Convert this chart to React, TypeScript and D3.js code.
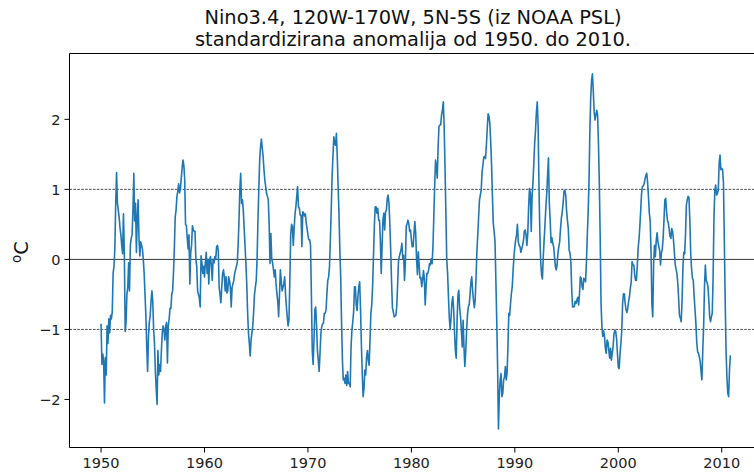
import React from "react";
import * as d3 from "d3";

// monthly standardized Nino3.4 anomaly (Jan 1950 .. Nov 2010)
const nino1950s = [
  -0.92, -1.5, -1.35, -1.45, -2.05, -1.4, -1.65, -0.95, -1.2, -0.85, -1.05, -0.8,
  -0.85, -0.75, -0.2, -0.1, 0.15, 0.8, 1.24, 0.8, 0.7, 0.6, 0.45, 0.35,
  0.2, 0.08, 0.65, 0.1, -1.03, -0.9, -0.5, -0.4, -0.05, -0.45, 0.2, 0.3,
  0.35, 0.7, 1.23, 0.55, 0.8, 0.1, 0.6, 0.85, 0.3, 0.05, 0.25, 0.2,
  0.15, 0.0, -0.2, -0.5, -0.8, -1.25, -1.6, -1.1, -0.9, -0.8, -0.6, -0.45,
  -0.6, -1.0, -1.2, -1.6, -1.85, -2.07, -1.3, -1.65, -1.5, -1.6, -1.3, -1.05,
  -0.95, -1.0, -1.15, -0.95, -0.9, -1.48, -0.95, -0.85, -0.7, -0.7, -0.5, -0.45,
  -0.2, 0.15, 0.6, 0.7, 0.9, 0.97, 1.08, 0.95, 1.0, 1.15, 1.3, 1.42,
  1.35, 1.15, 0.5, 0.48, 0.3, 0.15, 0.35, -0.35, 0.1, 0.2, 0.48, 0.42,
  0.4, 0.4, 0.0, -0.1, -0.45, -0.5, -0.55, -0.68, 0.05, -0.05, -0.2, -0.1,
];
const nino1960s = [
  -0.25, -0.05, 0.1, -0.2, 0.0, -0.35, 0.0, 0.04, -0.1, -0.3, 0.0, -0.05,
  0.04, 0.0, 0.18, 0.2, 0.12, -0.4, -0.5, -0.62, -0.4, -0.2, -0.15, -0.25,
  -0.45, -0.25, -0.48, -0.45, -0.25, -0.3, -0.4, -0.68, -0.4, -0.35, -0.3, -0.2,
  -0.15, -0.1, -0.05, 0.2, 0.55, 1.0, 1.23, 0.8, 0.85, 0.7, 0.45, 0.2,
  -0.05, -0.35, -0.75, -1.05, -1.2, -1.38, -1.15, -1.05, -0.95, -0.75, -0.5, -0.4,
  -0.3, 0.0, 0.56, 0.99, 1.42, 1.61, 1.72, 1.59, 1.47, 1.28, 1.13, 1.04,
  0.94, 0.9, 0.85, 0.5, -0.06, 0.37, 0.0, -0.05, -0.15, -0.25, -0.15, -0.35,
  -0.49, -0.6, -0.82, -0.5, -0.15, -0.3, -0.45, -0.4, -0.35, -0.25, -0.5, -0.68,
  -0.82, -0.95, -0.86, -0.3, 0.35, 0.5, 0.47, 0.2, 0.45, 0.65, 0.75, 0.9,
  1.04, 0.75, 0.73, 0.63, 0.63, 0.18, 0.68, 0.66, 0.62, 0.65, 0.52, 0.44,
];
const nino1970s = [
  0.35, 0.28, 0.28, 0.2, -0.5, -1.3, -1.5, -1.15, -0.72, -0.68, -0.95, -1.3,
  -1.44, -1.6, -1.34, -1.06, -0.96, -0.92, -0.91, -0.77, -0.77, -0.72, -0.49, -0.3,
  -0.25, -0.1, 0.28, 0.7, 1.18, 1.47, 1.75, 1.66, 1.63, 1.8, 1.47, 1.04,
  0.66, 0.13, -0.25, -0.91, -1.44, -1.72, -1.7, -1.77, -1.65, -1.8, -1.6, -1.77,
  -1.77, -1.82, -1.25, -1.01, -0.89, -0.75, -0.39, -0.39, -0.65, -0.73, -0.53, -0.39,
  -0.32, -0.72, -1.22, -1.63, -1.96, -1.85, -1.58, -1.65, -1.39, -1.3, -1.44, -1.51,
  -1.15, -0.77, -0.65, -0.39, 0.04, 0.47, 0.75, 0.75, 0.66, 0.73, 0.56, 0.56,
  0.28, -0.2, 0.18, 0.56, 0.66, 0.42, 0.68, 0.7, 0.87, 0.92, 0.8, 0.51,
  0.13, -0.32, -0.69, -0.75, -0.82, -0.81, -0.8, -0.68, -0.37, -0.03, 0.04, 0.09,
  0.14, 0.23, 0.01, 0.06, -0.3, -0.05, 0.47, 0.51, 0.56, 0.51, 0.4, 0.42,
];
const nino1980s = [
  0.28, 0.18, 0.18, 0.37, 0.54, 0.37, 0.0, -0.22, 0.11, -0.08, -0.27, -0.26,
  -0.39, -0.3, -0.16, -0.27, -0.65, -0.4, -0.2, -0.2, -0.15, -0.06, -0.08, 0.01,
  -0.06, 0.18, 0.61, 1.04, 1.42, 1.32, 1.16, 1.61, 1.9, 1.92, 1.92, 2.06,
  2.13, 2.25, 1.9, 1.32, 0.66, 0.0, -0.2, -0.53, -0.84, -1.0, -0.84, -0.62,
  -0.53, -0.7, -1.03, -1.3, -1.41, -0.87, -0.51, -0.44, -0.7, -0.82, -1.01, -1.25,
  -0.87, -1.25, -1.53, -1.32, -1.03, -0.8, -0.68, -0.65, -0.51, -0.33, -0.25, -0.44,
  -0.58, -0.69, -0.58, -0.25, 0.11, 0.35, 0.61, 0.85, 0.92, 0.99, 1.25, 1.35,
  1.46, 1.47, 1.44, 1.63, 1.87, 2.08, 2.04, 1.94, 1.68, 1.35, 0.9, 0.51,
  0.4, 0.25, -0.3, -0.87, -1.53, -2.42, -1.95, -1.72, -1.63, -1.96, -1.91, -1.72,
  -1.68, -1.53, -1.72, -1.62, -1.25, -0.77, -0.8, -0.63, -0.49, -0.39, -0.15, 0.04,
];
const nino1990s = [
  0.18, 0.28, 0.35, 0.5, 0.25, 0.2, 0.18, 0.1, 0.15, 0.2, 0.27, 0.4,
  0.42, 0.35, 0.2, 0.37, 0.75, 1.01, 0.95, 0.4, 0.9, 1.09, 1.37, 1.66,
  1.85, 2.1, 2.25, 1.9, 1.04, 0.37, -0.03, -0.22, -0.28, 0.04, 0.28, 0.51,
  0.75, 0.94, 1.2, 1.45, 0.8, 0.56, 0.24, 0.31, 0.23, 0.18, 0.04, -0.1,
  -0.15, -0.08, 0.09, 0.18, 0.25, 0.44, 0.59, 0.68, 0.8, 0.97, 0.99, 0.92,
  0.7, 0.56, 0.44, 0.13, 0.09, -0.03, -0.44, -0.68, -0.68, -0.67, -0.6, -0.63,
  -0.58, -0.54, -0.65, -0.49, -0.25, -0.27, -0.39, -0.43, -0.27, -0.29, -0.32, -0.06,
  0.32, 0.66, 1.09, 1.82, 2.3, 2.56, 2.65, 2.4, 2.11, 1.99, 2.06, 2.13,
  2.06, 1.66, 1.09, 0.32, -0.63, -0.96, -1.1, -1.02, -1.1, -1.27, -1.34, -1.15,
  -1.18, -1.3, -1.41, -1.27, -1.44, -1.34, -1.24, -1.07, -1.01, -1.03, -1.13, -1.34,
];
const nino2000s = [
  -1.54, -1.56, -1.35, -1.2, -1.03, -0.63, -0.49, -0.49, -0.63, -0.72, -0.76, -0.7,
  -0.6, -0.53, -0.41, -0.32, -0.03, -0.08, -0.08, -0.22, -0.3, -0.3, -0.1, 0.16,
  0.28, 0.47, 0.7, 0.94, 1.04, 1.05, 1.08, 1.15, 1.2, 1.23, 1.1, 0.9,
  0.66, 0.55, 0.1, -0.65, -0.82, -0.05, 0.2, 0.04, 0.27, 0.38, 0.25, 0.18,
  0.13, -0.08, 0.09, 0.14, 0.3, 0.56, 0.85, 0.87, 0.68, 0.56, 0.52, 0.44,
  0.33, 0.3, 0.44, 0.4, 0.28, 0.11, -0.07, -0.14, -0.2, -0.34, -0.56, -0.8,
  -0.84, -0.89, -0.58, -0.1, 0.1, 0.08, 0.37, 0.78, 0.85, 0.9, 0.88, 0.56,
  0.09, -0.13, -0.27, -0.3, -0.53, -0.72, -0.91, -1.18, -1.32, -1.34, -1.39, -1.46,
  -1.6, -1.72, -1.3, -0.96, -0.39, -0.08, -0.3, -0.33, -0.39, -0.58, -0.82, -0.89,
  -0.82, -0.77, -0.25, 0.61, 0.99, 1.06, 0.92, 0.94, 0.99, 1.37, 1.49, 1.28,
];
const nino2010 = [1.3, 1.28, 1.09, 0.28, -0.58, -1.3, -1.68, -1.91, -1.96, -1.58, -1.37];

const startYear = 1950;
const xTicks = [1950, 1960, 1970, 1980, 1990, 2000, 2010];
const yTicks = [-2, -1, 0, 1, 2];
const dashedLevels = [-1, 1];
const solidLevels = [0];
const titleLines = [
  "Nino3.4, 120W-170W, 5N-5S (iz NOAA PSL)",
  "standardizirana anomalija od 1950. do 2010.",
];

const W = 754;
const H = 472;
const plot = { left: 69.5, right: 762.7, top: 53.5, bottom: 447.5 };
const font = "'DejaVu Sans', sans-serif";

export default function App() {
  const values = [...nino1950s, ...nino1960s, ...nino1970s, ...nino1980s, ...nino1990s, ...nino2000s, ...nino2010];
  const data = values.map((v, i) => ({ t: startYear + i / 12, v }));

  const x = d3.scaleLinear().domain([1946.95, 2013.96]).range([plot.left, plot.right]);
  const y = d3.scaleLinear().domain([-2.686, 2.94]).range([plot.bottom, plot.top]);

  const line = d3
    .line<{ t: number; v: number }>()
    .x((d) => x(d.t))
    .y((d) => y(d.v));

  // title sits a touch left of the axes centre in the reference
  const titleX = 413;

  return (
    <svg
      width={W}
      height={H}
      style={{ position: "absolute", left: 0, top: 0, background: "#fff" }}
      fontFamily={font}
    >
      <rect x={0} y={0} width={W} height={H} fill="#fff" />

      {dashedLevels.map((lv) => (
        <line
          key={"d" + lv}
          x1={plot.left}
          x2={plot.right}
          y1={y(lv)}
          y2={y(lv)}
          stroke="#000"
          strokeWidth={0.7}
          strokeDasharray="2.6,1.3"
        />
      ))}
      {solidLevels.map((lv) => (
        <line
          key={"s" + lv}
          x1={plot.left}
          x2={plot.right}
          y1={y(lv)}
          y2={y(lv)}
          stroke="#000"
          strokeWidth={0.8}
        />
      ))}

      <path d={line(data) || ""} fill="none" stroke="#1f77b4" strokeWidth={1.6} strokeLinejoin="round" />

      {/* spines */}
      <line x1={plot.left} x2={plot.left} y1={plot.top} y2={plot.bottom} stroke="#000" strokeWidth={1} />
      <line x1={plot.left} x2={plot.right} y1={plot.bottom} y2={plot.bottom} stroke="#000" strokeWidth={1} />
      <line x1={plot.left} x2={plot.right} y1={plot.top} y2={plot.top} stroke="#000" strokeWidth={1} />
      <line x1={plot.right} x2={plot.right} y1={plot.top} y2={plot.bottom} stroke="#000" strokeWidth={1} />

      {xTicks.map((t) => (
        <g key={t}>
          <line x1={x(t)} x2={x(t)} y1={plot.bottom} y2={plot.bottom + 5} stroke="#000" strokeWidth={1} />
          <text x={x(t)} y={468} textAnchor="middle" fontSize={14.5} fill="#222">
            {t}
          </text>
        </g>
      ))}

      {yTicks.map((v) => (
        <g key={v}>
          <line x1={plot.left - 5} x2={plot.left} y1={y(v)} y2={y(v)} stroke="#000" strokeWidth={1} />
          <text x={plot.left - 9} y={y(v) + 5.3} textAnchor="end" fontSize={14.5} fill="#222">
            {v < 0 ? "\u2212" + Math.abs(v) : v}
          </text>
        </g>
      ))}

      <text transform="translate(28,252) rotate(-90)" textAnchor="middle" fontSize={19.5} fill="#111">
        <tspan fontSize={13.5} dy={-7}>o</tspan>
        <tspan dy={7}>C</tspan>
      </text>

      {titleLines.map((s, i) => (
        <text key={i} x={titleX} y={24 + i * 22} textAnchor="middle" fontSize={19.4} fill="#111">
          {s}
        </text>
      ))}
    </svg>
  );
}
